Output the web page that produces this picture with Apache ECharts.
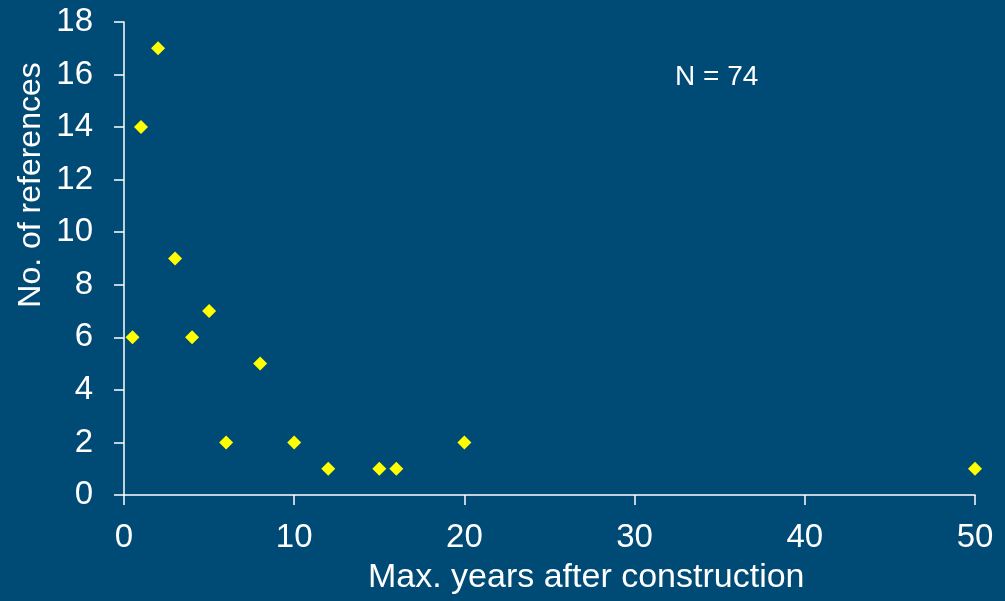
<!DOCTYPE html>
<html>
<head>
<meta charset="utf-8">
<script src="https://cdn.jsdelivr.net/npm/echarts@6/dist/echarts.min.js"></script>
<style>
html,body{margin:0;padding:0;background:#004B76;}
#c{width:1005px;height:601px;}
</style>
</head>
<body>
<div id="c"></div>
<script>
var years = [0.5, 1, 2, 3, 4, 5, 6, 8, 10, 12, 15, 16, 20, 50];
var refs  = [6, 14, 17, 9, 6, 7, 2, 5, 2, 1, 1, 1, 2, 1];
var xTitle = 'Max. years after construction';
var yTitle = 'No. of references';
var note = 'N = 74';

var points = years.map(function (x, i) { return [x, refs[i]]; });
var font = 'Liberation Sans, Arial, sans-serif';

var chart = echarts.init(document.getElementById('c'));
chart.setOption({
  backgroundColor: '#004B76',
  animation: false,
  grid: { left: 124, right: 30, top: 22, bottom: 106, containLabel: false },
  xAxis: {
    type: 'value', min: 0, max: 50, interval: 10,
    axisLine: { show: true, onZero: false, lineStyle: { color: '#ffffff', width: 1.5 } },
    axisTick: { show: true, inside: false, length: 10, lineStyle: { color: '#ffffff', width: 1.5 } },
    axisLabel: { color: '#ffffff', fontSize: 33, fontFamily: font, margin: 26 },
    splitLine: { show: false }
  },
  yAxis: {
    type: 'value', min: 0, max: 18, interval: 2,
    axisLine: { show: true, onZero: false, lineStyle: { color: '#ffffff', width: 1.5 } },
    axisTick: { show: true, inside: false, length: 10, lineStyle: { color: '#ffffff', width: 1.5 } },
    axisLabel: { color: '#ffffff', fontSize: 33, fontFamily: font, margin: 31 },
    splitLine: { show: false }
  },
  graphic: [
    { type: 'text', left: 368, top: 561,
      style: { text: xTitle, fill: '#ffffff', font: '34px ' + font } },
    { type: 'text', x: 31, y: 185, rotation: Math.PI / 2,
      style: { text: yTitle, fill: '#ffffff', font: '32px ' + font, align: 'center', verticalAlign: 'middle' } },
    { type: 'text', left: 675, top: 63,
      style: { text: note, fill: '#ffffff', font: '28px ' + font } }
  ],
  series: [{
    type: 'scatter',
    data: points,
    symbol: 'diamond',
    symbolSize: 14,
    itemStyle: { color: '#FFFF00', opacity: 1 }
  }]
});
</script>
</body>
</html>
